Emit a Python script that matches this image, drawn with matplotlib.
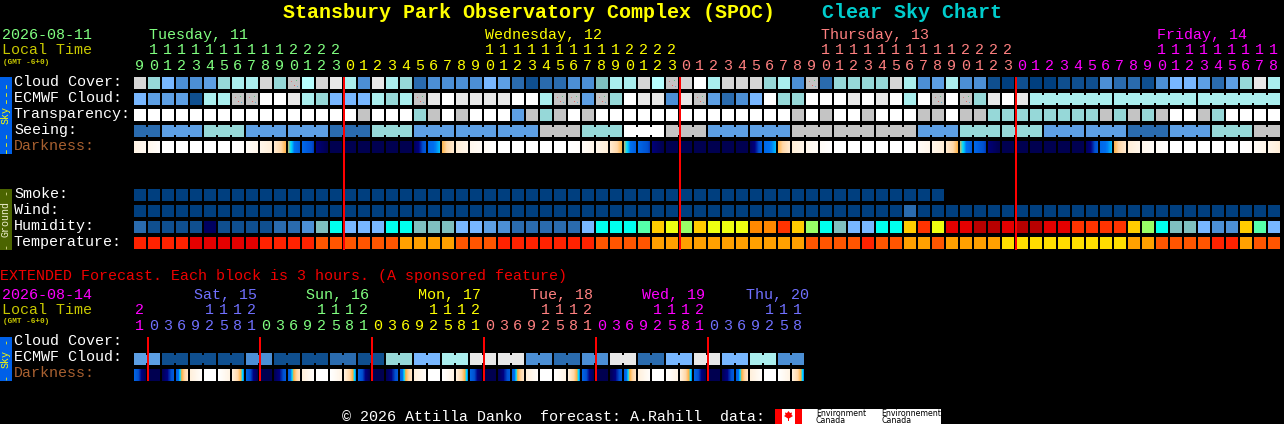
# plot.py - Clear Sky Chart, Stansbury Park Observatory Complex
import matplotlib
matplotlib.use("Agg")
import matplotlib.pyplot as plt
import numpy as np
from matplotlib.colors import LinearSegmentedColormap

# Colour steps used by every row
palette = ["#003F7F", "#0F4F8F", "#2A6BAE", "#4C8FD5", "#5D9FE4", "#78B7FF", "#7FBFBF",
           "#96D8D8", "#AAEEEE", "#B8FFFF", "#C4C4C4", "#D6D6D6", "#E8E8E8", "#FFFFFF",
           "#00FFEE", "#55FFAA", "#99FF66", "#EEFF11", "#FFDD00", "#FFCC00", "#FFA000",
           "#FF8800", "#FF5500", "#FF3300", "#FF2200", "#E40000", "#B80000", "#000060"]

# Hourly rows
cloud_cover = [11, 7, 5, 3, 3, 4, 7, 8, 8, 11, 7, 10, 9, 11, 12, 8, 3, 12, 8, 7, 2,
               3, 3, 3, 3, 5, 4, 2, 1, 2, 2, 3, 3, 6, 8, 8, 11, 9, 10, 11, 13, 8,
               11, 11, 11, 7, 8, 3, 10, 2, 7, 7, 7, 7, 11, 8, 3, 4, 8, 3, 3, 1,
               0, 1, 0, 0, 1, 1, 1, 3, 2, 2, 1, 3, 5, 5, 4, 2, 4, 7, 12, 8]
ecmwf_cloud = [5, 4, 4, 4, 1, 8, 8, 10, 10, 13, 13, 12, 8, 7, 5, 5, 5, 8, 7, 8, 10,
               12, 13, 12, 12, 12, 12, 13, 13, 8, 10, 10, 4, 10, 7, 13, 12, 12, 3, 12, 10, 4,
               2, 3, 5, 13, 7, 7, 13, 13, 13, 12, 13, 12, 13, 8, 13, 10, 13, 10, 7, 12,
               13, 12, 8, 8, 8, 8, 8, 8, 8, 8, 8, 8, 8, 8, 8, 8, 8, 8, 8, 8]
ecmwf_groups = [1] * 64 + [6, 6, 6]
transparency = [13, 13, 13, 13, 13, 13, 13, 13, 13, 13, 13, 13, 13, 13, 13, 13, 10, 13, 13, 13, 7,
                10, 13, 10, 13, 13, 13, 4, 10, 7, 10, 13, 10, 13, 13, 13, 13, 13, 13, 13, 13, 13,
                13, 13, 13, 13, 13, 10, 13, 10, 13, 13, 10, 13, 13, 13, 10, 10, 13, 10, 10, 7,
                7, 7, 7, 7, 7, 7, 7, 10, 7, 10, 7, 10, 13, 13, 10, 7, 13, 13, 13, 13]
seeing = [2, 4, 7, 4, 4, 2, 7, 4, 4, 4, 10, 7, 13, 10, 4, 4, 10, 10, 10, 4, 7, 7, 4, 4, 2, 4, 7, 10]
seeing_groups = [2] + [3] * 26 + [2]
dark_start = [.15, .1, 0, 0, 0, 0, 0, 0, .05, .12, .25, .54, .68, .9, 1, 1, 1, 1, 1, 1, .96,
              .68, .5, .22, .1, .05, 0, 0, 0, 0, 0, 0, .05, .12, .25, .54, .68, .9, 1, 1, 1, 1,
              1, 1, .96, .68, .5, .22, .1, .05, 0, 0, 0, 0, 0, 0, .05, .12, .25, .54, .68, .9,
              1, 1, 1, 1, 1, 1, .96, .68, .5, .22, .1, .05, 0, 0, 0, 0, 0, 0, .05, .12]
dark_end = [.08, .03, 0, 0, 0, 0, 0, .02, .12, .22, .5, .72, .82, 1, 1, 1, 1, 1, 1, 1, .75,
            .6, .25, .12, .05, 0, 0, 0, 0, 0, 0, .02, .12, .22, .5, .72, .82, 1, 1, 1, 1, 1,
            1, 1, .75, .6, .25, .12, .05, 0, 0, 0, 0, 0, 0, .02, .12, .22, .5, .72, .82, 1,
            1, 1, 1, 1, 1, 1, .75, .6, .25, .12, .05, 0, 0, 0, 0, 0, 0, .02, .12, .22]
smoke = [0] * 58
wind = [0, 0, 0, 0, 0, 0, 0, 0, 0, 0, 0, 0, 0, 0, 0, 0, 0, 0, 0, 0, 0,
        0, 0, 0, 0, 0, 0, 0, 0, 0, 0, 0, 0, 0, 0, 0, 0, 0, 0, 0, 0, 0,
        0, 0, 0, 0, 0, 0, 0, 0, 0, 0, 0, 0, 0, 2, 0, 0, 0, 0, 0, 0,
        0, 0, 0, 0, 0, 0, 0, 0, 0, 0, 0, 0, 0, 0, 0, 0, 0, 0, 0, 0]
humidity = [2, 1, 1, 1, 1, 27, 1, 1, 1, 1, 2, 2, 3, 6, 14, 5, 5, 5, 14, 14, 6,
            6, 6, 5, 5, 4, 3, 2, 2, 2, 2, 2, 5, 14, 14, 14, 15, 19, 17, 16, 19, 17,
            17, 17, 21, 21, 23, 19, 16, 14, 6, 5, 5, 14, 14, 19, 23, 17, 25, 25, 26, 26,
            25, 26, 26, 25, 25, 23, 23, 23, 23, 19, 16, 14, 6, 6, 5, 3, 3, 19, 15, 5]
temperature = [24, 24, 24, 24, 25, 25, 25, 25, 25, 24, 24, 24, 24, 22, 22, 22, 22, 22, 22, 20, 20,
               20, 20, 22, 22, 22, 24, 24, 24, 24, 24, 24, 24, 22, 22, 22, 22, 20, 20, 20, 20, 20,
               20, 20, 20, 20, 20, 20, 22, 22, 22, 22, 24, 22, 22, 20, 20, 22, 20, 20, 20, 20,
               18, 18, 18, 18, 18, 18, 18, 18, 18, 20, 20, 22, 22, 22, 22, 24, 24, 20, 22, 22]

# Extended rows (3 hour blocks, read in pairs)
ext_ecmwf = [4, 1, 1, 1, 3, 1, 1, 2, 1, 7, 5, 8, 12, 12, 3, 2, 3, 12, 2, 5, 12, 5, 8, 3]
ext_dark_start = [.7, 1, .98, .72, .2, 0, 0, .2] * 6
ext_dark_end = [.98, 1, .75, .3, .03, 0, .15, .62] * 6

# Labels
green, yellow, salmon, magenta, violet = "#80FF80", "#FFFF00", "#FF8080", "#FF00FF", "#7070FF"
day_names = ["Tuesday, 11", "Wednesday, 12", "Thursday, 13", "Friday, 14"]
day_colors = [green, yellow, salmon, magenta]
day_cells = [1, 25, 49, 73]
hour_tens = [" 11111111112222", "          11111111112222", "          11111111112222", "          111111111"]
hour_units = ["901234567890123", "012345678901234567890123", "012345678901234567890123",
              "0123456789012345678"]
ext_names = ["Sat, 15", "Sun, 16", "Mon, 17", "Tue, 18", "Wed, 19", "Thu, 20"]
ext_name_x = [194, 306, 418, 530, 642, 746]
ext_colors = [magenta, violet, green, yellow, salmon, magenta, violet]
ext_tens = ["2", "    1112", "    1112", "    1112", "    1112", "    1112", "    111"]
ext_units = ["1", "03692581", "03692581", "03692581", "03692581", "03692581", "0369258"]
midnight_cells = [15, 39, 63]
ext_midnight_cells = [1, 9, 17, 25, 33, 41]

# Pixel layout
X0, PITCH, W, ROW_H = 134, 14, 12, 12
MONO = "Liberation Mono"
FS = 10.8

fig = plt.figure(figsize=(12.84, 4.24), dpi=100, facecolor="black")
ax = fig.add_axes([0, 0, 1, 1], facecolor="black")


def cell_x(n):
    return X0 + PITCH * np.arange(n)


def block(x, h, w, y, color, zorder=2):
    # edges sit on whole pixels, so no snapping is wanted
    ax.bar(x, h, w, bottom=y, align="edge", color=color, linewidth=0, snap=False, zorder=zorder)


def draw_row(values, y, groups=None, specks=False):
    colors = [palette[v] for v in values]
    block(cell_x(len(values)), ROW_H, W, y, colors)
    if specks:
        # the darker grey cloud cells carry a few coloured dots
        for x, v in zip(cell_x(len(values)), values):
            if v == 10:
                block(x + 3, 1, 1, y + 4, "#D08080", zorder=3)
                block(x + 8, 1, 1, y + 3, "#60C080", zorder=3)
                block(x + 6, 1, 1, y + 8, "#E06060", zorder=3)
                block(x + 9, 1, 1, y + 9, "#60B0D0", zorder=3)
    if groups is None:
        return
    # joined blocks have a short bridge across the gap
    pos = 0
    for g in groups:
        for k in range(pos, pos + g - 1):
            block(X0 + PITCH * k + W, 8, 2, y + 2, colors[k])
        pos += g


dark_cmap = LinearSegmentedColormap.from_list("dark", [
    (0, "#FFFFFF"), (.2, "#FFF0DC"), (.4, "#FFD8A8"), (.52, "#FFB040"), (.58, "#00DDFF"),
    (.64, "#0070F0"), (.8, "#0050D0"), (.88, "#000080"), (1, "#000050")])


def draw_dark(start, end, y):
    for x, s, e in zip(cell_x(len(start)), start, end):
        ramp = np.linspace(s, e, W).reshape(1, -1)
        ax.imshow(ramp, cmap=dark_cmap, vmin=0, vmax=1, aspect="auto", interpolation="nearest",
                  extent=[x, x + W, y + ROW_H, y], zorder=1)


def draw_hours(tens, units, colors, y_tens, y_units):
    i = 0
    for t, u, c in zip(tens, units, colors):
        for k, ch in enumerate(u):
            x = X0 + PITCH * (i + k) + 5.5
            ax.text(x, y_units, ch, color=c, family=MONO, fontsize=FS, ha="center", va="baseline")
            if t[k] != " ":
                ax.text(x, y_tens, t[k], color=c, family=MONO, fontsize=FS, ha="center", va="baseline")
        i += len(u)


def label(x, y, s, color="white", size=FS, **kw):
    ax.text(x, y, s, color=color, family=MONO, fontsize=size, va="baseline", **kw)


def strip(y0, y1, color):
    block(0, y1 - y0, 12, y0, color)


def side(y, s, color, size=7.2):
    ax.text(5.5, y, s, color=color, family=MONO, fontsize=size, rotation=90, ha="center", va="center", zorder=4)


# Header
ax.text(283, 18.5, "Stansbury Park Observatory Complex (SPOC)", color="#FFFF00", family=MONO,
        fontsize=14.4, fontweight="bold", va="baseline")
ax.text(822, 18.5, "Clear Sky Chart", color="#00CCCC", family=MONO, fontsize=14.4,
        fontweight="bold", va="baseline")
label(2, 39, "2026-08-11", green)
label(2, 54, "Local Time", "#C8C800")
label(3, 64, "(GMT -6+0)", "#C8C800", size=5.6, fontweight="bold")
for name, c, cell in zip(day_names, day_colors, day_cells):
    label(X0 + PITCH * cell + 1, 39, name, c)
draw_hours(hour_tens, hour_units, day_colors, 54, 70)

# Sky block
strip(77, 154, "#0060E8")
side(91, "---", "#FFFF00", 9.5)
side(115.5, "Sky", "#FFFF00")
side(141, "---", "#FFFF00", 9.5)
draw_row(cloud_cover, 77, specks=True)
draw_row(ecmwf_cloud, 93, ecmwf_groups, specks=True)
draw_row(transparency, 109)
draw_row(list(np.repeat(seeing, seeing_groups)), 125, seeing_groups)
draw_dark(dark_start, dark_end, 141)
for y, s in zip([86, 102, 118, 134], ["Cloud Cover:", "ECMWF Cloud:", "Transparency:", "Seeing:"]):
    label(14, y, s)
label(14, 150, "Darkness:", "#A86030")

# Ground block
strip(189, 250, "#4B6400")
side(192, "-", "#E8E8A0")
side(219, "Ground", "#F0F0D0")
side(246, "-", "#E8E8A0")
draw_row(smoke, 189)
draw_row(wind, 205)
draw_row(humidity, 221)
draw_row(temperature, 237)
for y, s in zip([198, 214, 230, 246], ["Smoke:", "Wind:", "Humidity:", "Temperature:"]):
    label(14, y, s)

for c in midnight_cells:
    block(X0 + PITCH * c - 1, 173, 2, 77, "#FF0000", zorder=5)

# Extended forecast
label(0, 280, "EXTENDED Forecast. Each block is 3 hours. (A sponsored feature)", "#F00000")
label(2, 299, "2026-08-14", magenta)
label(2, 314, "Local Time", "#C8C800")
label(3, 323, "(GMT -6+0)", "#C8C800", size=5.6, fontweight="bold")
for name, c, x in zip(ext_names, ext_colors[1:], ext_name_x):
    label(x, 299, name, c)
draw_hours(ext_tens, ext_units, ext_colors, 314, 330)

strip(337, 381, "#0060E8")
side(341, "-", "#FFFF00")
side(359, "Sky", "#FFFF00")
side(377, "-", "#FFFF00")
draw_row(list(np.repeat(ext_ecmwf, 2)), 353, [2] * len(ext_ecmwf))
draw_dark(ext_dark_start, ext_dark_end, 369)
label(14, 345, "Cloud Cover:")
label(14, 361, "ECMWF Cloud:")
label(14, 377, "Darkness:", "#A86030")
for c in ext_midnight_cells:
    block(X0 + PITCH * c - 1, 44, 2, 337, "#FF0000", zorder=5)

# Footer with the flag and the two agency names
label(342, 421, "\u00a9 2026 Attilla Danko  forecast: A.Rahill  data:")
block(775, 15, 166, 409, "white")
block([775, 795], 15, 7, 409, "#FF0000", zorder=3)
leaf_x = [788.5, 790, 792, 791.5, 793, 789, 789, 788, 788, 784, 785.5, 785, 787]
leaf_y = [411, 413, 412.5, 415, 416, 418.5, 421, 421, 418.5, 416, 415, 412.5, 413]
ax.fill(leaf_x, leaf_y, color="#FF0000", zorder=4, lw=0)
for x, s in [(816, "Environment"), (881, "Environnement")]:
    ax.text(x, 416, s, color="black", family="DejaVu Sans", fontsize=5.7, va="baseline", zorder=4)
for x in [816, 881]:
    ax.text(x, 423, "Canada", color="black", family="DejaVu Sans", fontsize=5.7, va="baseline", zorder=4)

ax.set_xlim(0, 1284)
ax.set_ylim(424, 0)
ax.axis("off")
fig.savefig("out.png", dpi=100, facecolor="black")
